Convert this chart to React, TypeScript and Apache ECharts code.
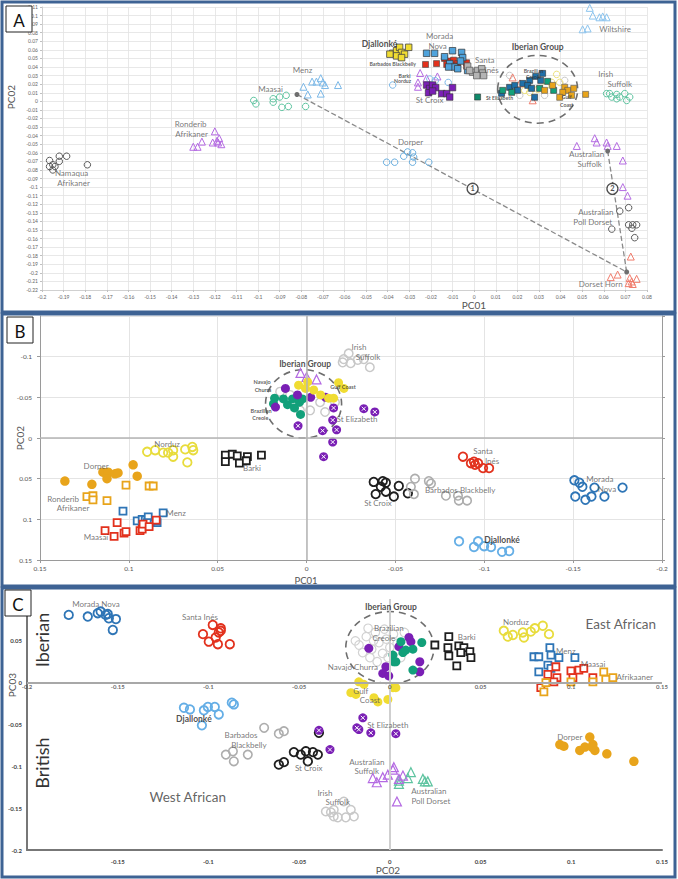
import React, { useEffect, useRef } from "react";
import * as echarts from "echarts";

const FONT = "Lato, 'Open Sans', 'DejaVu Sans', sans-serif";

// ---------- Axis ranges ----------
const A_X = { min: -0.2, max: 0.08, step: 0.01 };
const A_Y = { min: -0.22, max: 0.11, step: 0.01 };
const B_X = { min: -0.2, max: 0.15, step: 0.05 };
const B_Y = { min: -0.15, max: 0.15, step: 0.05 };
const C_X = { min: -0.2, max: 0.15, step: 0.05 };
const C_Y = { min: -0.2, max: 0.1, step: 0.05 };
// tick labels drawn along the PC03 = 0 line of panel C
const C_zeroTicks = [-0.2, -0.15, -0.1, -0.05, 0, 0.05, 0.1, 0.15];

// ---------- Panel A: PC01 (x) vs PC02 (y) ----------
const A_menz = [[-0.079, 0.017], [-0.075, 0.023], [-0.073, 0.023], [-0.071, 0.027], [-0.07, 0.022], [-0.069, 0.019], [-0.077, 0.008], [-0.071, 0.009], [-0.063, 0.019]];
const A_maasai = [[-0.102, 0.001], [-0.101, -0.003], [-0.093, 0.003], [-0.093, -0.001], [-0.09, 0.005], [-0.087, 0.007], [-0.089, -0.007], [-0.086, -0.006], [-0.078, -0.006]];
const A_ronderib = [[-0.13, -0.053], [-0.128, -0.053], [-0.126, -0.047], [-0.12, -0.035], [-0.121, -0.048], [-0.1185, -0.048], [-0.118, -0.043], [-0.117, -0.05], [-0.119, -0.046]];
const A_namaqua = [[-0.1965, -0.069], [-0.192, -0.064], [-0.1886, -0.064], [-0.192, -0.07], [-0.1965, -0.076], [-0.195, -0.074], [-0.194, -0.076], [-0.195, -0.08], [-0.179, -0.074]];
const A_djallonke = [[-0.0377, 0.056], [-0.0359, 0.059], [-0.0345, 0.063], [-0.0336, 0.057], [-0.0322, 0.055], [-0.0303, 0.063], [-0.0359, 0.053], [-0.0336, 0.051], [-0.039, 0.055]];
const A_barbados = [[-0.0225, 0.043], [-0.0174, 0.044], [-0.0137, 0.05], [-0.0113, 0.047], [-0.0095, 0.048], [-0.0076, 0.044], [-0.0035, 0.045], [-0.0035, 0.041], [-0.0086, 0.041], [-0.0127, 0.043]];
const A_morada = [[-0.022, 0.056], [-0.0183, 0.056], [-0.01, 0.059], [-0.0058, 0.057], [-0.0053, 0.051], [-0.0137, 0.052], [-0.0113, 0.044], [-0.009, 0.04], [-0.0118, 0.04], [-0.0076, 0.038], [-0.0063, 0.047], [-0.003, 0.036]];
const A_santaInes = [[-0.003, 0.041], [-0.0007, 0.034], [0.0016, 0.036], [0.0035, 0.038], [0.0039, 0.033], [0.0012, 0.03], [0.0044, 0.03], [-0.0021, 0.036]];
const A_norduz = [[-0.025, 0.033], [-0.026, 0.022], [-0.022, 0.027], [-0.017, 0.029], [-0.026, 0.017]];
const A_barki = [[-0.0377, 0.019], [-0.0205, 0.026], [-0.012, 0.022], [-0.018, 0.024]];
const A_stCroix = [[-0.022, 0.019], [-0.0206, 0.015], [-0.0192, 0.019], [-0.0178, 0.016], [-0.0211, 0.01], [-0.0192, 0.012], [-0.015, 0.009], [-0.0127, 0.009], [-0.01, 0.016], [-0.0113, 0.005]];
const A_stElizabeth = [[0.0016, 0.005]];
const A_iberBlue = [[0.0127, 0.0093], [0.0164, 0.0163], [0.0188, 0.0186], [0.0225, 0.0209], [0.0257, 0.0244], [0.0285, 0.0291], [0.0317, 0.0326], [0.028, 0.0047], [0.0248, 0.0186], [0.0308, 0.0244], [0.0201, 0.0128], [0.0266, 0.0151]];
const A_iberOrange = [[0.0326, 0.0128], [0.0419, 0.0163], [0.0433, 0.0128], [0.0461, 0.0151], [0.0516, 0.0081], [0.041, 0.0105], [0.0396, 0.0047], [0.0451, 0.007], [0.0363, 0.0186]];
const A_iberGreen = [[0.034, 0.0233], [0.0368, 0.0128], [0.0132, 0.0128], [0.0174, 0.0105], [0.0303, 0.0151]];
const A_iberYellow = [[0.0234, 0.0128], [0.0294, 0.014], [0.0359, 0.0221], [0.0396, 0.0221], [0.0382, 0.0314], [0.0331, 0.0174], [0.0257, 0.0105]];
const A_iberRed = [[0.0178, 0.0279], [0.0271, 0.0012], [0.0211, 0.0209]];
const A_iberGray = [[0.0164, 0.0302], [0.0326, 0.007], [0.0211, 0.007], [0.0419, 0.0244]];
const A_wiltshire = [[0.0535, 0.109], [0.0549, 0.1], [0.058, 0.098], [0.0595, 0.099], [0.0613, 0.098], [0.0525, 0.085], [0.0502, 0.084]];
const A_irishSuffolk = [[0.0613, 0.009], [0.0637, 0.005], [0.066, 0.008], [0.0674, 0.005], [0.0697, 0.009], [0.072, 0.005], [0.0706, 0.001], [0.0627, 0.009], [0.066, 0.003]];
const A_dorper = [[-0.0405, -0.071], [-0.0368, -0.071], [-0.0326, -0.064], [-0.0285, -0.071], [-0.028, -0.065], [-0.021, -0.071], [-0.0308, -0.059], [-0.0285, -0.06]];
const A_ausSuffolk = [[0.0475, -0.052], [0.0558, -0.043], [0.0567, -0.048], [0.0613, -0.048], [0.0618, -0.052], [0.066, -0.052], [0.0688, -0.069], [0.0688, -0.1], [0.071, -0.11]];
const A_ausPollDorset = [[0.0674, -0.128], [0.0715, -0.124], [0.0715, -0.144], [0.0734, -0.144], [0.073, -0.148], [0.0752, -0.144], [0.0637, -0.149], [0.0743, -0.159]];
const A_dorsetHorn = [[0.0725, -0.181], [0.0632, -0.205], [0.0664, -0.202], [0.072, -0.206], [0.0729, -0.21], [0.0752, -0.207], [0.0813, -0.203], [0.0715, -0.212], [0.0734, -0.213]];
const A_centroids = [[-0.082, 0.008], [0.0618, -0.058], [0.0706, -0.199]];
const A_path1 = [[-0.082, 0.008], [0.0706, -0.199]];
const A_path2 = [[0.0618, -0.058], [0.0706, -0.199]];
const A_numbers: [string, number, number][] = [["1", -0.0007, -0.102], ["2", 0.064, -0.102]];
const A_ellipse = [[0.0294, 0.014, 0.0185, 0.0395]];

const A_labels: [string, number, number][] = [
  ["Menz", -0.0794, 0.036], ["Maasai", -0.0942, 0.014], ["Ronderib", -0.1312, -0.0267], ["Afrikaner", -0.1308, -0.0384],
  ["Namaqua", -0.1863, -0.0837], ["Afrikaner", -0.1854, -0.0953], ["Morada", -0.016, 0.0767], ["Nova", -0.0169, 0.0651],
  ["Santa", 0.0049, 0.0477], ["Inés", 0.0081, 0.036], ["St Croix", -0.0206, 0.0012], ["Wiltshire", 0.0652, 0.0849],
  ["Irish", 0.0609, 0.0314], ["Suffolk", 0.0674, 0.0198], ["Dorper", -0.0294, -0.0477], ["Australian", 0.0521, -0.0616],
  ["Suffolk", 0.0535, -0.0733], ["Australian", 0.0563, -0.129], ["Poll Dorset", 0.0549, -0.1407], ["Dorset Horn", 0.0586, -0.2128],
];
const A_labelsBold: [string, number, number][] = [["Djallonké", -0.0438, 0.0674], ["Iberian Group", 0.0294, 0.0628]];
const A_labelsSmall: [string, number, number][] = [
  ["Barbados Blackbelly", -0.0377, 0.043], ["Barki", -0.0322, 0.029], ["Norduz", -0.0331, 0.0233], ["St Elizabeth", 0.0118, 0.0035],
  ["Brazilian", 0.0275, 0.0349], ["Creole", 0.0275, 0.0279], ["Gulf", 0.0428, 0.0047], ["Coast", 0.0428, -0.0047],
];

// ---------- Panel B: PC01 (x, reversed) vs PC02 (y, reversed) ----------
const B_iberGray = [[0.0093, -0.053], [-0.002, -0.034], [-0.0076, -0.044], [-0.016, -0.044], [0.0037, -0.034], [0.0149, -0.057], [-0.0104, -0.032]];
const B_navajo = [[0.0034, -0.08], [0, -0.075], [-0.0056, -0.072]];
const B_purple = [[0.0119, -0.061], [0.0175, -0.038], [0.0051, -0.053], [-0.0023, -0.05], [-0.0107, -0.05]];
const B_stElizabeth = [[-0.0152, -0.037], [0.0048, -0.015], [-0.009, -0.009], [-0.0147, 0.005], [-0.0322, -0.036], [-0.0384, -0.032], [-0.0169, -0.01], [-0.0147, -0.022], [-0.0096, 0.023]];
const B_brazilian = [[0.018, -0.049], [0.0186, -0.042], [0.013, -0.048], [0.0107, -0.041], [0.0079, -0.048], [0.0068, -0.037], [0.004, -0.044], [0.0034, -0.029], [0.0023, -0.048]];
const B_gulfCoast = [[0.0045, -0.065], [0.0006, -0.061], [-0.004, -0.059], [-0.0079, -0.053], [-0.0124, -0.049], [-0.0006, -0.069], [-0.018, -0.068], [-0.021, -0.061], [-0.0152, -0.049]];
const B_irishSuffolk = [[-0.0237, -0.104], [-0.0209, -0.097], [-0.0248, -0.092], [-0.0288, -0.096], [-0.0322, -0.097], [-0.0356, -0.087], [-0.0203, -0.093]];
const B_norduz = [[0.0897, 0.017], [0.0852, 0.015], [0.0807, 0.018], [0.0779, 0.018], [0.0751, 0.015], [0.0751, 0.023], [0.0683, 0.014], [0.0643, 0.011], [0.0638, 0.015], [0.0671, 0.03]];
const B_barki = [[0.0457, 0.021], [0.0418, 0.02], [0.039, 0.022], [0.0333, 0.023], [0.0254, 0.021], [0.0457, 0.029], [0.0378, 0.031], [0.0339, 0.028]];
const B_dorper = [[0.136, 0.053], [0.1208, 0.057], [0.1146, 0.042], [0.1117, 0.042], [0.1078, 0.044], [0.1061, 0.043], [0.1123, 0.05], [0.0976, 0.033], [0.0953, 0.047]];
const B_ronderib = [[0.1236, 0.072], [0.1202, 0.071], [0.1202, 0.076], [0.1123, 0.077], [0.1016, 0.058], [0.0886, 0.059], [0.0863, 0.059]];
const B_menz = [[0.1033, 0.09], [0.0953, 0.102], [0.0925, 0.1], [0.0908, 0.101], [0.0891, 0.097], [0.0897, 0.104], [0.0841, 0.104], [0.0807, 0.092], [0.0846, 0.102]];
const B_maasai = [[0.1134, 0.114], [0.1083, 0.121], [0.1066, 0.104], [0.1027, 0.117], [0.1016, 0.115], [0.0937, 0.114], [0.0925, 0.112], [0.092, 0.106], [0.0886, 0.109], [0.0846, 0.101]];
const B_santaInes = [[-0.088, 0.023], [-0.0925, 0.031], [-0.0948, 0.033], [-0.0965, 0.031], [-0.0993, 0.037], [-0.1027, 0.037], [-0.0942, 0.029]];
const B_stCroix = [[-0.0378, 0.054], [-0.0429, 0.053], [-0.0446, 0.055], [-0.0418, 0.06], [-0.0389, 0.069], [-0.0446, 0.066], [-0.0491, 0.072], [-0.0519, 0.059], [-0.057, 0.068]];
const B_barbados = [[-0.0587, 0.06], [-0.061, 0.05], [-0.0604, 0.069], [-0.0688, 0.053], [-0.07, 0.056], [-0.0784, 0.071], [-0.0852, 0.071], [-0.0857, 0.077], [-0.0903, 0.077]];
const B_djallonke = [[-0.0858, 0.127], [-0.0942, 0.134], [-0.0965, 0.127], [-0.0999, 0.133], [-0.1038, 0.134], [-0.11, 0.14], [-0.114, 0.139]];
const B_morada = [[-0.1507, 0.052], [-0.1535, 0.055], [-0.1552, 0.06], [-0.162, 0.061], [-0.1676, 0.072], [-0.1778, 0.061], [-0.1512, 0.072], [-0.1569, 0.076], [-0.1603, 0.072]];
const B_ellipse = [[0.0017, -0.042, 0.0214, 0.042]];

const B_labels: [string, number, number][] = [
  ["Irish", -0.0295, -0.112], ["Suffolk", -0.0346, -0.0996], ["St Elizabeth", -0.0284, -0.0234], ["Norduz", 0.0785, 0.0074],
  ["Barki", 0.0307, 0.0369], ["Dorper", 0.1184, 0.0344], ["Ronderib", 0.137, 0.075], ["Afrikaner", 0.1314, 0.0861],
  ["Menz", 0.0734, 0.0923], ["Maasai", 0.1185, 0.1218], ["Santa", -0.0993, 0.016], ["Inés", -0.1044, 0.0283],
  ["St Croix", -0.0402, 0.08], ["Barbados Blackbelly", -0.0864, 0.064], ["Morada", -0.165, 0.0504], ["Nova", -0.169, 0.0627],
];
const B_labelsBold: [string, number, number][] = [["Iberian Group", 0.0008, -0.091], ["Djallonké", -0.11, 0.1255]];
const B_labelsSmall: [string, number, number][] = [
  ["Navajo", 0.025, -0.069], ["Churra", 0.0245, -0.059], ["Brazilian", 0.0256, -0.033], ["Creole", 0.026, -0.0246], ["Gulf Coast", -0.0205, -0.0627],
];

// ---------- Panel C: PC02 (x) vs PC03 (y) ----------
const C_morada = [[-0.177, 0.081], [-0.1665, 0.079], [-0.161, 0.083], [-0.1594, 0.085], [-0.1566, 0.081], [-0.1549, 0.077], [-0.151, 0.076], [-0.1527, 0.063], [-0.1555, 0.082]];
const C_santaInes = [[-0.103, 0.058], [-0.0976, 0.069], [-0.0932, 0.065], [-0.0943, 0.06], [-0.096, 0.054], [-0.0998, 0.049], [-0.0948, 0.046], [-0.0882, 0.046], [-0.0932, 0.062]];
const C_djallonke = [[-0.1135, -0.03], [-0.1102, -0.032], [-0.1025, -0.033], [-0.1003, -0.029], [-0.0965, -0.029], [-0.0943, -0.038], [-0.0871, -0.024], [-0.086, -0.026], [-0.1036, -0.051]];
const C_barbados = [[-0.0693, -0.054], [-0.0584, -0.058], [-0.0612, -0.061], [-0.0904, -0.086], [-0.0865, -0.082], [-0.086, -0.094], [-0.0783, -0.086]];
const C_stCroix = [[-0.0612, -0.098], [-0.0584, -0.095], [-0.0529, -0.083], [-0.0491, -0.086], [-0.0463, -0.082], [-0.0424, -0.083], [-0.0397, -0.086], [-0.0452, -0.094], [-0.0391, -0.06]];
const C_stElizabeth = [[-0.0391, -0.057], [-0.033, -0.08], [-0.0171, -0.056], [-0.0105, -0.06], [0.0033, -0.061], [-0.0149, -0.042], [-0.0182, -0.054]];
const C_irishSuffolk = [[-0.0353, -0.154], [-0.0325, -0.155], [-0.0309, -0.16], [-0.0309, -0.152], [-0.0254, -0.142], [-0.0215, -0.152], [-0.0243, -0.161], [-0.0198, -0.16], [-0.0287, -0.161]];
const C_ausSuffolk = [[-0.0094, -0.114], [-0.0072, -0.119], [-0.0039, -0.113], [-0.0011, -0.11], [0.0017, -0.104], [0.0022, -0.101], [0.0072, -0.111], [0.0039, -0.142], [0.005, -0.115]];
const C_ausPollDorset = [[0.005, -0.117], [0.005, -0.121], [0.0099, -0.114], [0.0116, -0.107], [0.0182, -0.115], [0.0209, -0.118], [0.0193, -0.118]];
const C_dorper = [[0.0937, -0.074], [0.0959, -0.076], [0.1047, -0.081], [0.1075, -0.077], [0.1102, -0.065], [0.1119, -0.074], [0.113, -0.081], [0.1196, -0.085], [0.1345, -0.094], [0.1114, -0.077]];
const C_iberGray = [[-0.017, 0.045], [-0.013, 0.055], [-0.01, 0.04], [-0.008, 0.06], [-0.006, 0.048], [-0.004, 0.035], [-0.002, 0.052], [0, 0.042], [0.002, 0.058], [-0.011, 0.03], [-0.015, 0.036], [0.004, 0.047], [-0.007, 0.025], [-0.001, 0.03], [-0.019, 0.05], [-0.003, 0.064], [0.008, 0.06], [-0.012, 0.065], [0.006, 0.03], [-0.009, 0.05]];
const C_navajo = [[-0.0116, 0.041], [0.005, 0.043], [0.0105, 0.054], [0.0116, 0.049], [-0.0022, 0.019], [-0.0039, 0.011], [-0.0006, 0.008], [0.0165, 0.025], [0.0165, 0.013]];
const C_brazilian = [[0.0017, 0.033], [0.0022, 0.025], [0.0061, 0.049], [0.0072, 0.036], [0.0088, 0.039], [0.0127, 0.04], [0.0176, 0.048], [0.0127, 0.015], [0.0033, 0.025]];
const C_gulfCoast = [[-0.0215, -0.012], [-0.0187, -0.014], [-0.0171, 0.001], [-0.0143, -0.002], [-0.0088, -0.018], [-0.0011, -0.02], [0.0017, -0.006], [0.0033, -0.006], [-0.0066, -0.023]];
const C_barki = [[0.0248, 0.045], [0.0325, 0.055], [0.038, 0.044], [0.0408, 0.042], [0.0441, 0.037], [0.0447, 0.03], [0.032, 0.042], [0.0325, 0.032], [0.0391, 0.036], [0.0369, 0.02]];
const C_norduz = [[0.0628, 0.062], [0.065, 0.055], [0.0678, 0.057], [0.0733, 0.06], [0.0739, 0.054], [0.0777, 0.061], [0.0799, 0.065], [0.0843, 0.068], [0.0877, 0.058]];
const C_menz = [[0.0794, 0.031], [0.0821, 0.031], [0.0882, 0.042], [0.0888, 0.033], [0.0932, 0.03], [0.102, 0.03], [0.0871, 0.021], [0.0888, 0.017], [0.0821, 0.013]];
const C_maasai = [[0.0871, 0.01], [0.0915, 0.019], [0.0921, 0.006], [0.0904, 0.001], [0.0998, 0.014], [0.1009, 0.006], [0.1042, 0.015], [0.1069, 0.017], [0.1119, 0.006], [0.0832, -0.006]];
const C_afrikaaner = [[0.1179, 0.013], [0.1229, 0.006], [0.119, 0.004], [0.0998, 0.001], [0.1119, 0.001], [0.086, 0], [0.0849, -0.011]];
const C_ellipse = [[0, 0.042, 0.0243, 0.043]];

const C_labels: [string, number, number][] = [
  ["Morada Nova", -0.162, 0.0944], ["Santa Inés", -0.1047, 0.0789], ["Navajo Churra", -0.0204, 0.019], ["Gulf", -0.016, -0.0096],
  ["Coast", -0.011, -0.0203], ["Barki", 0.0424, 0.055], ["Norduz", 0.0695, 0.0729], ["Menz", 0.097, 0.038],
  ["Maasai", 0.112, 0.0227], ["Afrikaaner", 0.135, 0.0068], ["Barbados", -0.082, -0.062], ["Blackbelly", -0.0777, -0.074],
  ["St Croix", -0.0447, -0.1016], ["St Elizabeth", -0.0011, -0.0502], ["Irish", -0.0358, -0.1314], ["Suffolk", -0.0287, -0.143],
  ["Australian", -0.0127, -0.0944], ["Suffolk", -0.0127, -0.106], ["Australian", 0.0215, -0.129], ["Poll Dorset", 0.0226, -0.141],
  ["Dorper", 0.0992, -0.0645], ["Brazilian", -0.0006, 0.0657], ["Creole", -0.0033, 0.0538],
];
const C_labelsBold: [string, number, number][] = [["Iberian Group", 0.0006, 0.0908], ["Djallonké", -0.108, -0.043]];
const C_regions: [string, number, number][] = [["West African", -0.1114, -0.1362], ["East African", 0.1273, 0.0705]];

// ---------- Styles ----------
const COL = {
  blue: "#2e75b6", lightBlue: "#64aee6", red: "#e2311d", gray: "#adadad", lightGray: "#c8c8c8", black: "#1e1e1e",
  purple: "#7a1fb5", lavender: "#b46ae2", green: "#12a07a", lightGreen: "#5ec4a0", yellow: "#f0dc32", orange: "#e8a41b",
  salmon: "#f07c6c", darkGray: "#5a5a5a", teal: "#1f70a8", text: "#555555",
};
const T = "rgba(0,0,0,0)";
const AXIDX: Record<string, [number, number]> = { A: [0, 0], B: [1, 1], C: [2, 2] };

function sc(panel: string, data: number[][], symbol: string, size: number, fill: string, stroke: string, bw: number, z = 3) {
  const [xi, yi] = AXIDX[panel];
  return {
    type: "scatter", xAxisIndex: xi, yAxisIndex: yi, data, symbol, symbolSize: size, silent: true, z,
    itemStyle: { color: fill, borderColor: stroke, borderWidth: bw, opacity: 1 },
  };
}
function crossOverlay(panel: string, data: number[][], size: number) {
  const [xi, yi] = AXIDX[panel];
  return {
    type: "scatter", xAxisIndex: xi, yAxisIndex: yi, data, symbol: "path://M0,0L10,10M10,0L0,10", symbolSize: size, silent: true, z: 4,
    itemStyle: { color: T, borderColor: "#fff", borderWidth: 1, opacity: 1 },
  };
}
function labels(panel: string, list: [string, number, number][], size: number, color: string, weight: string, extra: any = {}) {
  const [xi, yi] = AXIDX[panel];
  return {
    type: "scatter", xAxisIndex: xi, yAxisIndex: yi, symbolSize: 1, silent: true, z: 10,
    itemStyle: { color: T },
    data: list.map(([t, x, y]) => ({ value: [x, y], name: t })),
    label: { show: true, position: "inside", formatter: "{b}", fontSize: size, color, fontWeight: weight, fontFamily: FONT },
    ...extra,
  };
}
function ellipse(panel: string, data: number[][]) {
  const [xi, yi] = AXIDX[panel];
  return {
    type: "custom", xAxisIndex: xi, yAxisIndex: yi, data, silent: true, z: 1,
    renderItem: (_p: any, api: any) => {
      const c = api.coord([api.value(0), api.value(1)]);
      const s = api.size([api.value(2), api.value(3)]);
      return {
        type: "ellipse",
        shape: { cx: c[0], cy: c[1], rx: Math.abs(s[0]), ry: Math.abs(s[1]) },
        style: { fill: "none", stroke: "#6e6e6e", lineWidth: 1.6, lineDash: [7, 5] },
      };
    },
  };
}
const fmt = (v: number) => String(parseFloat(v.toFixed(2)));

function valAxis(grid: number, r: any, extra: any = {}) {
  return {
    type: "value", gridIndex: grid, min: r.min, max: r.max, interval: r.step,
    axisLine: { onZero: false, lineStyle: { color: "#9a9a9a" } },
    axisTick: { show: true, length: 3, lineStyle: { color: "#9a9a9a" } },
    axisLabel: { formatter: fmt, fontFamily: FONT, color: "#555", fontSize: 6.5, margin: 5 },
    splitLine: { show: true, lineStyle: { color: "#e4e4e4", width: 1 } },
    ...extra,
  };
}

function buildOption() {
  const aLbl = { fontSize: 5, color: "#666", margin: 4, formatter: fmt, fontFamily: FONT };
  const cLbl = { fontSize: 6, color: "#444", fontWeight: "bold", formatter: fmt, fontFamily: FONT };
  const xAxis = [
    valAxis(0, A_X, { axisLine: { onZero: false, lineStyle: { color: "#d0d0d0" } }, axisTick: { show: true, length: 2, lineStyle: { color: "#c0c0c0" } }, axisLabel: aLbl, splitLine: { lineStyle: { color: "#e2e2e2", width: 0.8 } } }),
    valAxis(1, B_X, { inverse: true }),
    valAxis(2, C_X, { position: "bottom", axisLine: { onZero: false, lineStyle: { color: "#777", width: 2 } }, axisTick: { show: false }, axisLabel: { ...cLbl, margin: 8, showMinLabel: false }, splitLine: { show: false } }),
  ];
  const yAxis = [
    valAxis(0, A_Y, { axisLine: { onZero: false, lineStyle: { color: "#d0d0d0" } }, axisTick: { show: true, length: 2, lineStyle: { color: "#c0c0c0" } }, axisLabel: aLbl, splitLine: { lineStyle: { color: "#e2e2e2", width: 0.8 } } }),
    valAxis(1, B_Y, { inverse: true, axisLabel: { formatter: fmt, fontFamily: FONT, color: "#555", fontSize: 6.5, showMinLabel: false } }),
    valAxis(2, C_Y, { axisLine: { onZero: false, lineStyle: { color: "#777", width: 2 } }, axisTick: { show: false }, axisLabel: { ...cLbl, margin: 5, showMaxLabel: false }, splitLine: { show: false } }),
    valAxis(1, B_Y, { inverse: true, position: "right", axisLabel: { show: false }, splitLine: { show: false } }),
  ];

  const dashed = (data: number[][]) => ({
    type: "line", xAxisIndex: 0, yAxisIndex: 0, data, symbol: "none", silent: true, z: 2,
    lineStyle: { type: "dashed", color: "#8a8a8a", width: 1.3 },
  });

  const series: any[] = [
    // ----- A -----
    ellipse("A", A_ellipse),
    dashed(A_path1), dashed(A_path2),
    sc("A", A_menz, "triangle", 7, T, "#7cb9e8", 1),
    sc("A", A_maasai, "circle", 6.5, T, COL.lightGreen, 1),
    sc("A", A_ronderib, "triangle", 7, T, COL.lavender, 1),
    sc("A", A_namaqua, "circle", 6.5, T, COL.darkGray, 1),
    sc("A", A_djallonke, "rect", 6.5, COL.yellow, "#444", 0.8),
    sc("A", A_barbados, "rect", 6, COL.red, "#444", 0.6),
    sc("A", A_morada, "rect", 6.5, "#4fa3dc", "#333", 0.7),
    sc("A", A_santaInes, "rect", 6.5, "#b4b4b4", "#555", 0.7),
    sc("A", A_norduz, "triangle", 7, T, COL.lavender, 1),
    sc("A", A_barki, "circle", 6.5, T, "#7cb9e8", 1),
    sc("A", A_stCroix, "rect", 6.5, COL.purple, "#333", 0.6),
    sc("A", A_stElizabeth, "rect", 6, "#0e8a6a", "#333", 0.6),
    sc("A", A_iberGray, "circle", 6.5, T, "#c8c8c8", 1),
    sc("A", A_iberYellow, "circle", 6.5, T, "#ece07a", 1),
    sc("A", A_iberRed, "triangle", 7, T, COL.salmon, 1),
    sc("A", A_iberBlue, "rect", 6, COL.teal, "#333", 0.6),
    sc("A", A_iberGreen, "rect", 6, COL.green, "#333", 0.6),
    sc("A", A_iberOrange, "rect", 6, COL.orange, "#555", 0.6),
    sc("A", A_wiltshire, "triangle", 7, T, "#8cc4ee", 1),
    sc("A", A_irishSuffolk, "circle", 6.5, T, COL.lightGreen, 1),
    sc("A", A_dorper, "circle", 6.5, T, "#6aaede", 1),
    sc("A", A_ausSuffolk, "triangle", 7, T, COL.lavender, 1),
    sc("A", A_ausPollDorset, "circle", 6.5, T, COL.darkGray, 1),
    sc("A", A_dorsetHorn, "triangle", 7, T, COL.salmon, 1),
    sc("A", A_centroids, "circle", 5, "#6e6e6e", "#6e6e6e", 0, 5),
    {
      type: "scatter", xAxisIndex: 0, yAxisIndex: 0, symbol: "circle", symbolSize: 11, silent: true, z: 6,
      itemStyle: { color: "#fff", borderColor: "#222", borderWidth: 1.3 },
      data: A_numbers.map(([t, x, y]) => ({ value: [x, y], name: t })),
      label: { show: true, position: "inside", formatter: "{b}", fontSize: 7.5, fontWeight: "bold", color: "#222", fontFamily: FONT },
    },
    labels("A", A_labels, 8, COL.text, "normal"),
    labels("A", A_labelsBold, 8.5, "#222", "bold"),
    labels("A", A_labelsSmall, 5.2, "#333", "bold"),

    // ----- B -----
    ellipse("B", B_ellipse),
    sc("B", B_iberGray, "circle", 8.5, T, COL.lightGray, 1.4),
    sc("B", B_navajo, "triangle", 9, T, COL.lavender, 1.2),
    sc("B", B_brazilian, "circle", 9, COL.green, COL.green, 0),
    sc("B", B_purple, "circle", 9, COL.purple, COL.purple, 0),
    sc("B", B_gulfCoast, "circle", 9, COL.yellow, COL.yellow, 0),
    sc("B", B_stElizabeth, "circle", 9, COL.purple, COL.purple, 0),
    crossOverlay("B", B_stElizabeth, 4),
    sc("B", B_irishSuffolk, "circle", 8.5, T, COL.lightGray, 1.5),
    sc("B", B_norduz, "circle", 8.5, T, "#e8dc3c", 1.8),
    sc("B", B_barki, "rect", 7, "#fff", COL.black, 1.8),
    sc("B", B_dorper, "circle", 9.5, COL.orange, COL.orange, 0),
    sc("B", B_ronderib, "rect", 7, "#fff", COL.orange, 1.8),
    sc("B", B_menz, "rect", 7, "#fff", COL.blue, 1.8),
    sc("B", B_maasai, "rect", 7, "#fff", COL.red, 1.8),
    sc("B", B_santaInes, "circle", 8.5, T, COL.red, 1.8),
    sc("B", B_stCroix, "circle", 8.5, T, COL.black, 1.8),
    sc("B", B_barbados, "circle", 8.5, T, COL.gray, 1.6),
    sc("B", B_djallonke, "circle", 8.5, T, COL.lightBlue, 1.8),
    sc("B", B_morada, "circle", 8.5, T, COL.blue, 1.8),
    labels("B", B_labels, 8, COL.text, "normal", {
      markLine: {
        silent: true, symbol: "none", label: { show: false },
        lineStyle: { color: "#b4b4b4", width: 1.5, type: "solid" },
        data: [{ xAxis: 0 }, { yAxis: 0 }],
      },
    }),
    labels("B", B_labelsBold, 8.5, "#222", "bold"),
    labels("B", B_labelsSmall, 5.5, "#333", "bold"),

    // ----- C -----
    ellipse("C", C_ellipse),
    sc("C", C_iberGray, "circle", 8.5, T, "#d2d2d2", 1.2),
    sc("C", C_morada, "circle", 8.5, T, COL.blue, 1.8),
    sc("C", C_santaInes, "circle", 8.5, T, COL.red, 1.8),
    sc("C", C_djallonke, "circle", 8.5, T, COL.lightBlue, 1.8),
    sc("C", C_barbados, "circle", 8.5, T, COL.gray, 1.6),
    sc("C", C_stCroix, "circle", 8.5, T, COL.black, 1.8),
    sc("C", C_stElizabeth, "circle", 9, COL.purple, COL.purple, 0),
    crossOverlay("C", C_stElizabeth, 4),
    sc("C", C_irishSuffolk, "circle", 8.5, T, COL.lightGray, 1.5),
    sc("C", C_ausPollDorset, "triangle", 9, T, COL.lightGreen, 1.2),
    sc("C", C_ausSuffolk, "triangle", 9, T, COL.lavender, 1.2),
    sc("C", C_dorper, "circle", 9.5, COL.orange, COL.orange, 0),
    sc("C", C_navajo, "circle", 9, COL.purple, COL.purple, 0),
    sc("C", C_brazilian, "circle", 9, COL.green, COL.green, 0),
    sc("C", C_gulfCoast, "circle", 9, COL.yellow, COL.yellow, 0),
    sc("C", C_barki, "rect", 7, "#fff", COL.black, 1.8),
    sc("C", C_norduz, "circle", 8.5, T, "#e8dc3c", 1.8),
    sc("C", C_menz, "rect", 7, "#fff", COL.blue, 1.8),
    sc("C", C_maasai, "rect", 7, "#fff", COL.red, 1.8),
    sc("C", C_afrikaaner, "rect", 7, "#fff", COL.orange, 1.8),
    labels("C", C_labels, 8, COL.text, "normal", {
      markLine: {
        silent: true, symbol: "none", label: { show: false },
        lineStyle: { type: "solid" },
        data: [
          { xAxis: 0, lineStyle: { color: "#cfcfcf", width: 2 } },
          { yAxis: 0, lineStyle: { color: "#a8a8a8", width: 2 } },
        ],
      },
    }),
    // tick labels along the PC03 = 0 line
    {
      type: "scatter", xAxisIndex: 2, yAxisIndex: 2, symbolSize: 1, silent: true, z: 9,
      itemStyle: { color: T },
      data: C_zeroTicks.map((v) => [v, 0]),
      label: {
        show: true, position: "inside", offset: [0, 4], fontSize: 6, fontWeight: "bold", color: "#444", fontFamily: FONT,
        formatter: (p: any) => fmt(p.value[0]),
      },
    },
    labels("C", C_labelsBold, 8.5, "#222", "bold"),
    labels("C", C_regions, 13.5, "#3a3a3a", "normal"),
  ];

  const txt = (text: string, x: number, y: number, size: number, rot = 0, color = "#555") => ({
    type: "text", x, y, rotation: rot, z: 50,
    style: { text, fill: color, font: `${size}px ${FONT}`, align: "center", verticalAlign: "middle" },
  });
  const panel = (y: number, h: number) => ({
    type: "rect", shape: { x: 2, y, width: 673, height: h }, z: 60,
    style: { fill: "none", stroke: "#3e6394", lineWidth: 3 },
  });
  const tag = (t: string, x: number, y: number) => ({
    type: "group", z: 70,
    children: [
      { type: "rect", shape: { x, y, width: 26, height: 26 }, style: { fill: "#fff", stroke: "#222", lineWidth: 1 }, z: 70 },
      { type: "text", x: x + 13, y: y + 14, z: 71, style: { text: t, fill: "#111", font: `17px ${FONT}`, align: "center", verticalAlign: "middle" } },
    ],
  });

  const graphic = [
    panel(2, 310), panel(314, 272), panel(588, 289),
    tag("A", 6, 6), tag("B", 7, 317), tag("C", 5, 590),
    txt("PC02", 11, 97, 10, Math.PI / 2),
    txt("PC01", 474, 305, 10),
    txt("PC02", 20, 438, 10, Math.PI / 2),
    txt("PC01", 306, 580, 9.5),
    txt("PC03", 12, 685, 10, Math.PI / 2),
    txt("PC02", 388, 870, 10),
    txt("Iberian", 42, 640, 18, Math.PI / 2, "#333"),
    txt("British", 42, 763, 18, Math.PI / 2, "#333"),
  ];

  return {
    animation: false,
    backgroundColor: "#fff",
    textStyle: { fontFamily: FONT },
    grid: [
      { left: 42, right: 31, top: 7, bottom: 589, outerBoundsMode: "none" },
      { left: 40, right: 16, top: 316, bottom: 319, outerBoundsMode: "none" },
      { left: 27, right: 16, top: 599, bottom: 29, outerBoundsMode: "none" },
    ],
    xAxis, yAxis, series, graphic,
  };
}

export default function App() {
  const ref = useRef<HTMLDivElement>(null);
  useEffect(() => {
    const chart = echarts.init(ref.current!, null, { renderer: "svg" });
    chart.setOption(buildOption() as any);
    return () => chart.dispose();
  }, []);
  return <div ref={ref} style={{ position: "absolute", left: 0, top: 0, width: 678, height: 879, background: "#fff" }} />;
}
